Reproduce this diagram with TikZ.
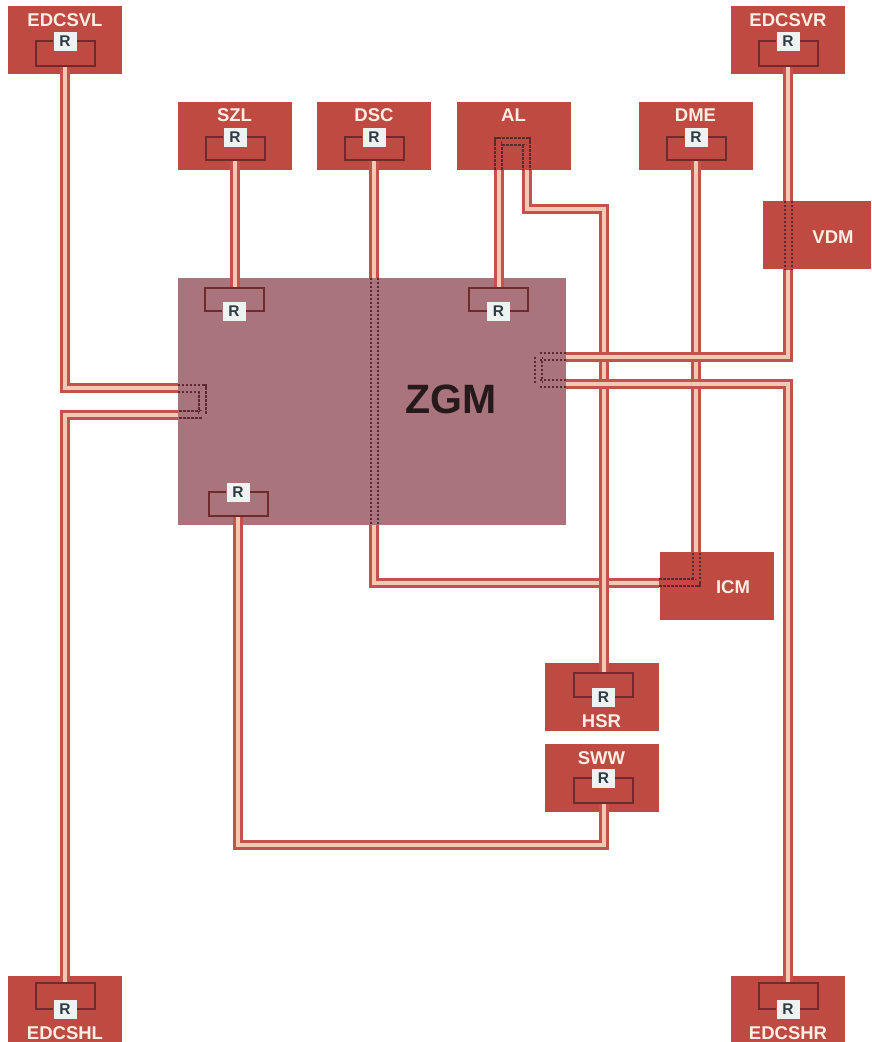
\documentclass[tikz,border=0pt]{standalone}
\usepackage{fontspec}
\setmainfont{Liberation Sans}
\usepackage{xcolor}
\usepackage{tikz}
\usetikzlibrary{calc}
\definecolor{pecu}{HTML}{BF4A42}
\definecolor{pzgm}{HTML}{A9747C}
\definecolor{pwire}{HTML}{C4524C}
\definecolor{ppale}{HTML}{F3C9B4}
\definecolor{ploop}{HTML}{6E2A2C}
\definecolor{pdots}{HTML}{5A2A30}
\definecolor{plabel}{HTML}{FBEEE4}
\definecolor{prbg}{HTML}{EEF2F0}
\definecolor{prtxt}{HTML}{2E3B44}
\newcommand{\rloop}[2]{\draw[loopline] (#1.west) -- ($(#1)+(-29.5,0)$) |- ($(#1)+(29.5,#2)$) |- (#1.east);}
\tikzset{
  ecu/.style={fill=pecu,minimum width=114,minimum height=68,inner sep=0},
  ecutxt/.style={text=plabel,inner sep=0,font=\fontsize{18.5}{19}\selectfont\bfseries},
  rbox/.style={fill=prbg,text=prtxt,minimum width=23,minimum height=19,inner sep=0,
    font=\fontsize{15.5}{16}\selectfont\bfseries},
  wire/.style={draw=pwire,line width=3,double=ppale,double distance=4},
  dotwire/.style={draw=pdots,line width=2,double distance=5,dash pattern=on 2.5 off 1.5},
  loopline/.style={draw=ploop,line width=2}
}
\begin{document}
\begin{tikzpicture}[x=1pt,y=-1pt]
  \useasboundingbox (0,0) rectangle (871,1042);
  % control units
  \node[fill=pzgm,minimum width=388,minimum height=247,inner sep=0] (zgm) at (372,401.5) {};
  \node[ecu] (edcsvl) at (65,40) {};
  \node[ecu] (edcsvr) at (788,40) {};
  \node[ecu] (szl) at (234.5,135.5) {};
  \node[ecu] (dsc) at (374,135.5) {};
  \node[ecu] (al) at (513.5,135.5) {};
  \node[ecu] (dme) at (695.5,135.5) {};
  \node[ecu,minimum width=108] (vdm) at (817,235) {};
  \node[ecu] (icm) at (716.5,586) {};
  \node[ecu] (hsr) at (601.5,697) {};
  \node[ecu] (sww) at (601.5,778) {};
  \node[ecu,minimum height=66] (edcshl) at (65,1009) {};
  \node[ecu,minimum height=66] (edcshr) at (788,1009) {};
  % labels
  \node[ecutxt] (edcsvlT) at (65,20) {EDCSVL};
  \node[ecutxt] (edcsvrT) at (788,20) {EDCSVR};
  \node[ecutxt] (szlT) at (234.5,115) {SZL};
  \node[ecutxt] (dscT) at (374,115) {DSC};
  \node[ecutxt] (alT) at (513.5,115) {AL};
  \node[ecutxt] (dmeT) at (695.5,115) {DME};
  \node[ecutxt] (vdmT) at (833,237) {VDM};
  \node[ecutxt] (icmT) at (733,587) {ICM};
  \node[ecutxt] (hsrT) at (601.5,721) {HSR};
  \node[ecutxt] (swwT) at (601.5,758) {SWW};
  \node[ecutxt] (edcshlT) at (65,1033) {EDCSHL};
  \node[ecutxt] (edcshrT) at (788,1033) {EDCSHR};
  \node[text=black!78!pzgm,inner sep=0,font=\fontsize{41}{41}\selectfont\bfseries] (zgmT) at (451,399) {ZGM};
  % resistors
  \node[rbox] (edcsvlR) at (65,41) {R};
  \node[rbox] (edcsvrR) at (788,41) {R};
  \node[rbox] (szlR) at (235,137) {R};
  \node[rbox] (dscR) at (374,137) {R};
  \node[rbox] (dmeR) at (696,137) {R};
  \node[rbox] (zgmaR) at (234,311) {R};
  \node[rbox] (zgmbR) at (498.5,311) {R};
  \node[rbox] (zgmcR) at (238,492) {R};
  \node[rbox] (hsrR) at (603.5,697) {R};
  \node[rbox] (swwR) at (603.5,778) {R};
  \node[rbox] (edcshlR) at (65,1009) {R};
  \node[rbox] (edcshrR) at (788,1009) {R};
  % wires
  \draw[wire] ($(edcsvlR)+(0,25)$) |- (zgm.west |- 0,388);
  \draw[wire] ($(edcshlR)+(0,-26)$) |- (zgm.west |- 0,414.5);
  \draw[wire] ($(szlR)+(0,23)$) -- ($(zgmaR)+(1,-23)$);
  \draw[wire] ($(dscR)+(0,23)$) -- (dscR |- zgm.north);
  \draw[wire] (dscR |- zgm.south) |- (icm.west |- 0,582.5);
  \draw[wire] (al.south -| zgmbR) -- ($(zgmbR)+(0,-23)$);
  \draw[wire] (526.5,169.5) |- (603.5,208.5) -- ($(hsrR)+(0,-24)$);
  \draw[wire] ($(dmeR)+(0,23)$) -- (dmeR |- icm.north);
  \draw[wire] ($(edcsvrR)+(0,25)$) -- (edcsvrR |- vdm.north);
  \draw[wire] (edcsvrR |- vdm.south) |- (zgm.east |- 0,356.5);
  \draw[wire] (zgm.east |- 0,383.5) -| ($(edcshrR)+(0,-26)$);
  \draw[wire] ($(swwR)+(0,25)$) |- (237.5,845) -- ($(zgmcR)+(-0.5,24)$);
  % hidden runs
  \draw[dotwire,double=pzgm] (zgm.west |- 0,388) -| (202.5,414.5) -- (zgm.west |- 0,414.5);
  \draw[dotwire,double=pzgm] (zgm.east |- 0,356.5) -| (538.5,383.5) -- (zgm.east |- 0,383.5);
  \draw[dotwire,double=pzgm] (dscR |- zgm.north) -- (dscR |- zgm.south);
  \draw[dotwire,double=pecu] (al.south -| zgmbR) |- (526.5,141.5) -- (526.5,169.5);
  \draw[dotwire,double=pecu] (edcsvrR |- vdm.north) -- (edcsvrR |- vdm.south);
  \draw[dotwire,double=pecu] (icm.west |- 0,582.5) -| (dmeR |- icm.north);
  % loops round the resistors
  \rloop{edcsvlR}{25}
  \rloop{edcsvrR}{25}
  \rloop{szlR}{23}
  \rloop{dscR}{23}
  \rloop{dmeR}{23}
  \rloop{zgmaR}{-23}
  \rloop{zgmbR}{-23}
  \rloop{zgmcR}{24}
  \rloop{hsrR}{-24}
  \rloop{swwR}{25}
  \rloop{edcshlR}{-26}
  \rloop{edcshrR}{-26}
\end{tikzpicture}
\end{document}
